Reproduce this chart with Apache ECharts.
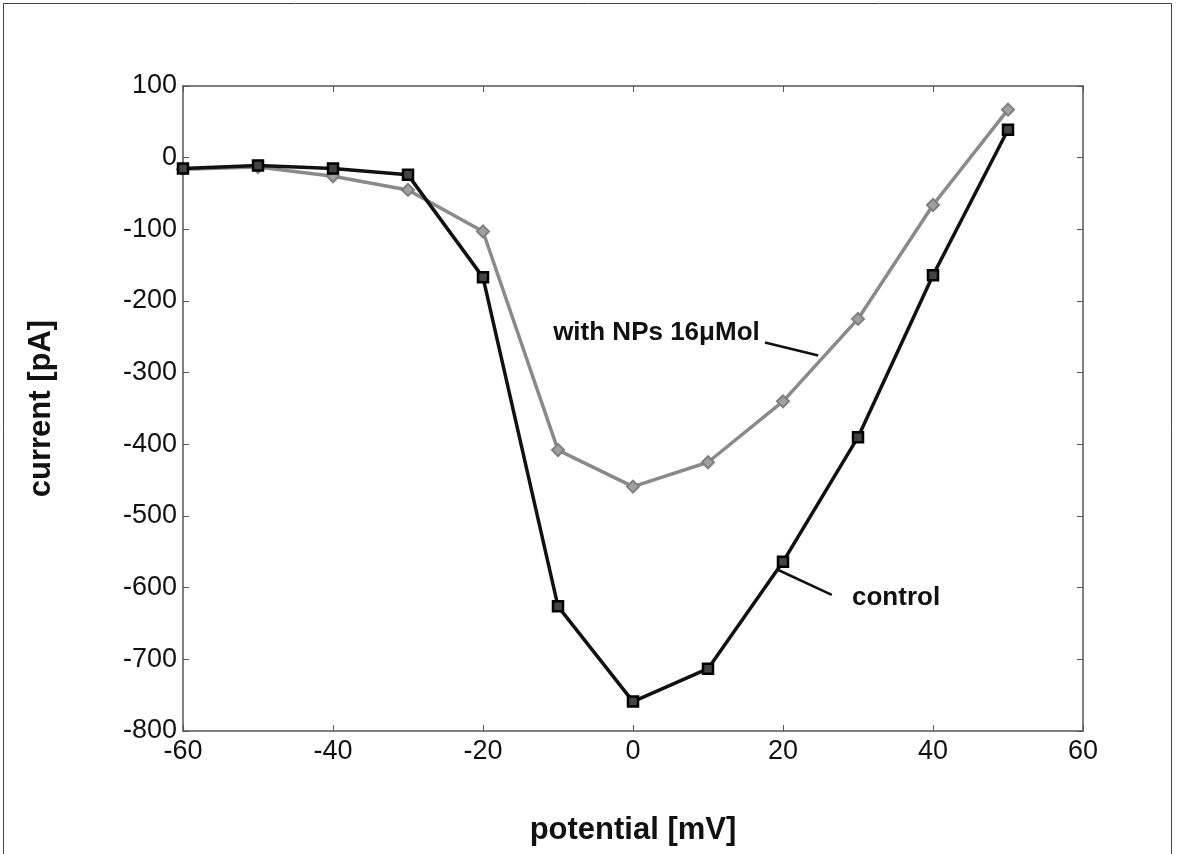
<!DOCTYPE html>
<html>
<head>
<meta charset="utf-8">
<script src="https://cdn.jsdelivr.net/npm/echarts@6/dist/echarts.min.js"></script>
<style>html,body{margin:0;padding:0;background:#fff;}#c{width:1177px;height:854px;}</style>
</head>
<body>
<div id="c"></div>
<script>
const potential = [-60, -50, -40, -30, -20, -10, 0, 10, 20, 30, 40, 50];
const controlCurrent = [-15, -11, -15, -24, -167, -626, -759, -713, -564, -390, -164, 39];
const npsCurrent = [-16, -13, -26, -45, -103, -408, -459, -425, -340, -225, -66, 67];
const xTicks = [-60, -40, -20, 0, 20, 40, 60];
const yTicks = [100, 0, -100, -200, -300, -400, -500, -600, -700, -800];

const FONT = "'Liberation Sans', Arial, Helvetica, sans-serif";
const chart = echarts.init(document.getElementById('c'), null, {renderer: 'canvas'});

const axisLine = {show: true, onZero: false, lineStyle: {color: '#555', width: 1.5}};
const tick = {show: true, inside: true, length: 6, lineStyle: {color: '#555', width: 1}};

const option = {
  backgroundColor: '#fff',
  animation: false,
  grid: {left: 183, right: 94, top: 86, bottom: 123},
  xAxis: [{
    type: 'value', min: xTicks[0], max: xTicks[xTicks.length - 1], interval: 20,
    axisLine, axisTick: tick, splitLine: {show: false},
    axisLabel: {color: '#111', fontSize: 27, fontFamily: FONT, margin: 7},
    name: 'potential [mV]', nameLocation: 'middle', nameGap: 84,
    nameTextStyle: {color: '#111', fontSize: 31, fontWeight: 'bold', fontFamily: FONT}
  }, {
    type: 'value', position: 'top', min: xTicks[0], max: xTicks[xTicks.length - 1], interval: 20,
    axisLine, axisTick: tick, axisLabel: {show: false}, splitLine: {show: false}
  }],
  yAxis: [{
    type: 'value', min: yTicks[yTicks.length - 1], max: yTicks[0], interval: 100,
    axisLine, axisTick: tick, splitLine: {show: false},
    axisLabel: {color: '#111', fontSize: 27, fontFamily: FONT, margin: 6},
    name: 'current [pA]', nameLocation: 'middle', nameGap: 126,
    nameTextStyle: {color: '#111', fontSize: 31, fontWeight: 'bold', fontFamily: FONT}
  }, {
    type: 'value', position: 'right', min: yTicks[yTicks.length - 1], max: yTicks[0], interval: 100,
    axisLine, axisTick: tick, axisLabel: {show: false}, splitLine: {show: false}
  }],
  series: [{
    name: 'with NPs 16μMol', type: 'line',
    data: potential.map((x, i) => [x, npsCurrent[i]]),
    lineStyle: {color: '#8a8a8a', width: 3.5},
    symbol: 'diamond', symbolSize: 12,
    itemStyle: {color: '#a0a0a0', borderColor: '#7f7f7f', borderWidth: 2},
    z: 2
  }, {
    name: 'control', type: 'line',
    data: potential.map((x, i) => [x, controlCurrent[i]]),
    lineStyle: {color: '#111', width: 3.5},
    symbol: 'rect', symbolSize: 10,
    itemStyle: {color: '#444', borderColor: '#000', borderWidth: 2.5},
    z: 3
  }]
};
chart.setOption(option);

// annotations placed in data coordinates
const p = (x, y) => chart.convertToPixel({xAxisIndex: 0, yAxisIndex: 0}, [x, y]);
const a1 = p(17.6, -258), a2 = p(24.7, -276);
const b1 = p(19.3, -575), b2 = p(26.5, -610);
const t1 = p(16.9, -245), t2 = p(29.2, -614);
chart.setOption({
  graphic: [
    {type: 'rect', shape: {x: 3.5, y: 3.5, width: 1168, height: 900},
     style: {fill: 'none', stroke: '#444', lineWidth: 1}, silent: true},
    {type: 'line', shape: {x1: a1[0], y1: a1[1], x2: a2[0], y2: a2[1]}, style: {stroke: '#111', lineWidth: 2.5}},
    {type: 'line', shape: {x1: b1[0], y1: b1[1], x2: b2[0], y2: b2[1]}, style: {stroke: '#111', lineWidth: 2.5}},
    {type: 'text', x: t1[0], y: t1[1], style: {text: 'with NPs 16μMol', fill: '#111', font: 'bold 26px ' + FONT, textAlign: 'right', textVerticalAlign: 'middle'}},
    {type: 'text', x: t2[0], y: t2[1], style: {text: 'control', fill: '#111', font: 'bold 26px ' + FONT, textAlign: 'left', textVerticalAlign: 'middle'}}
  ]
});
</script>
</body>
</html>
